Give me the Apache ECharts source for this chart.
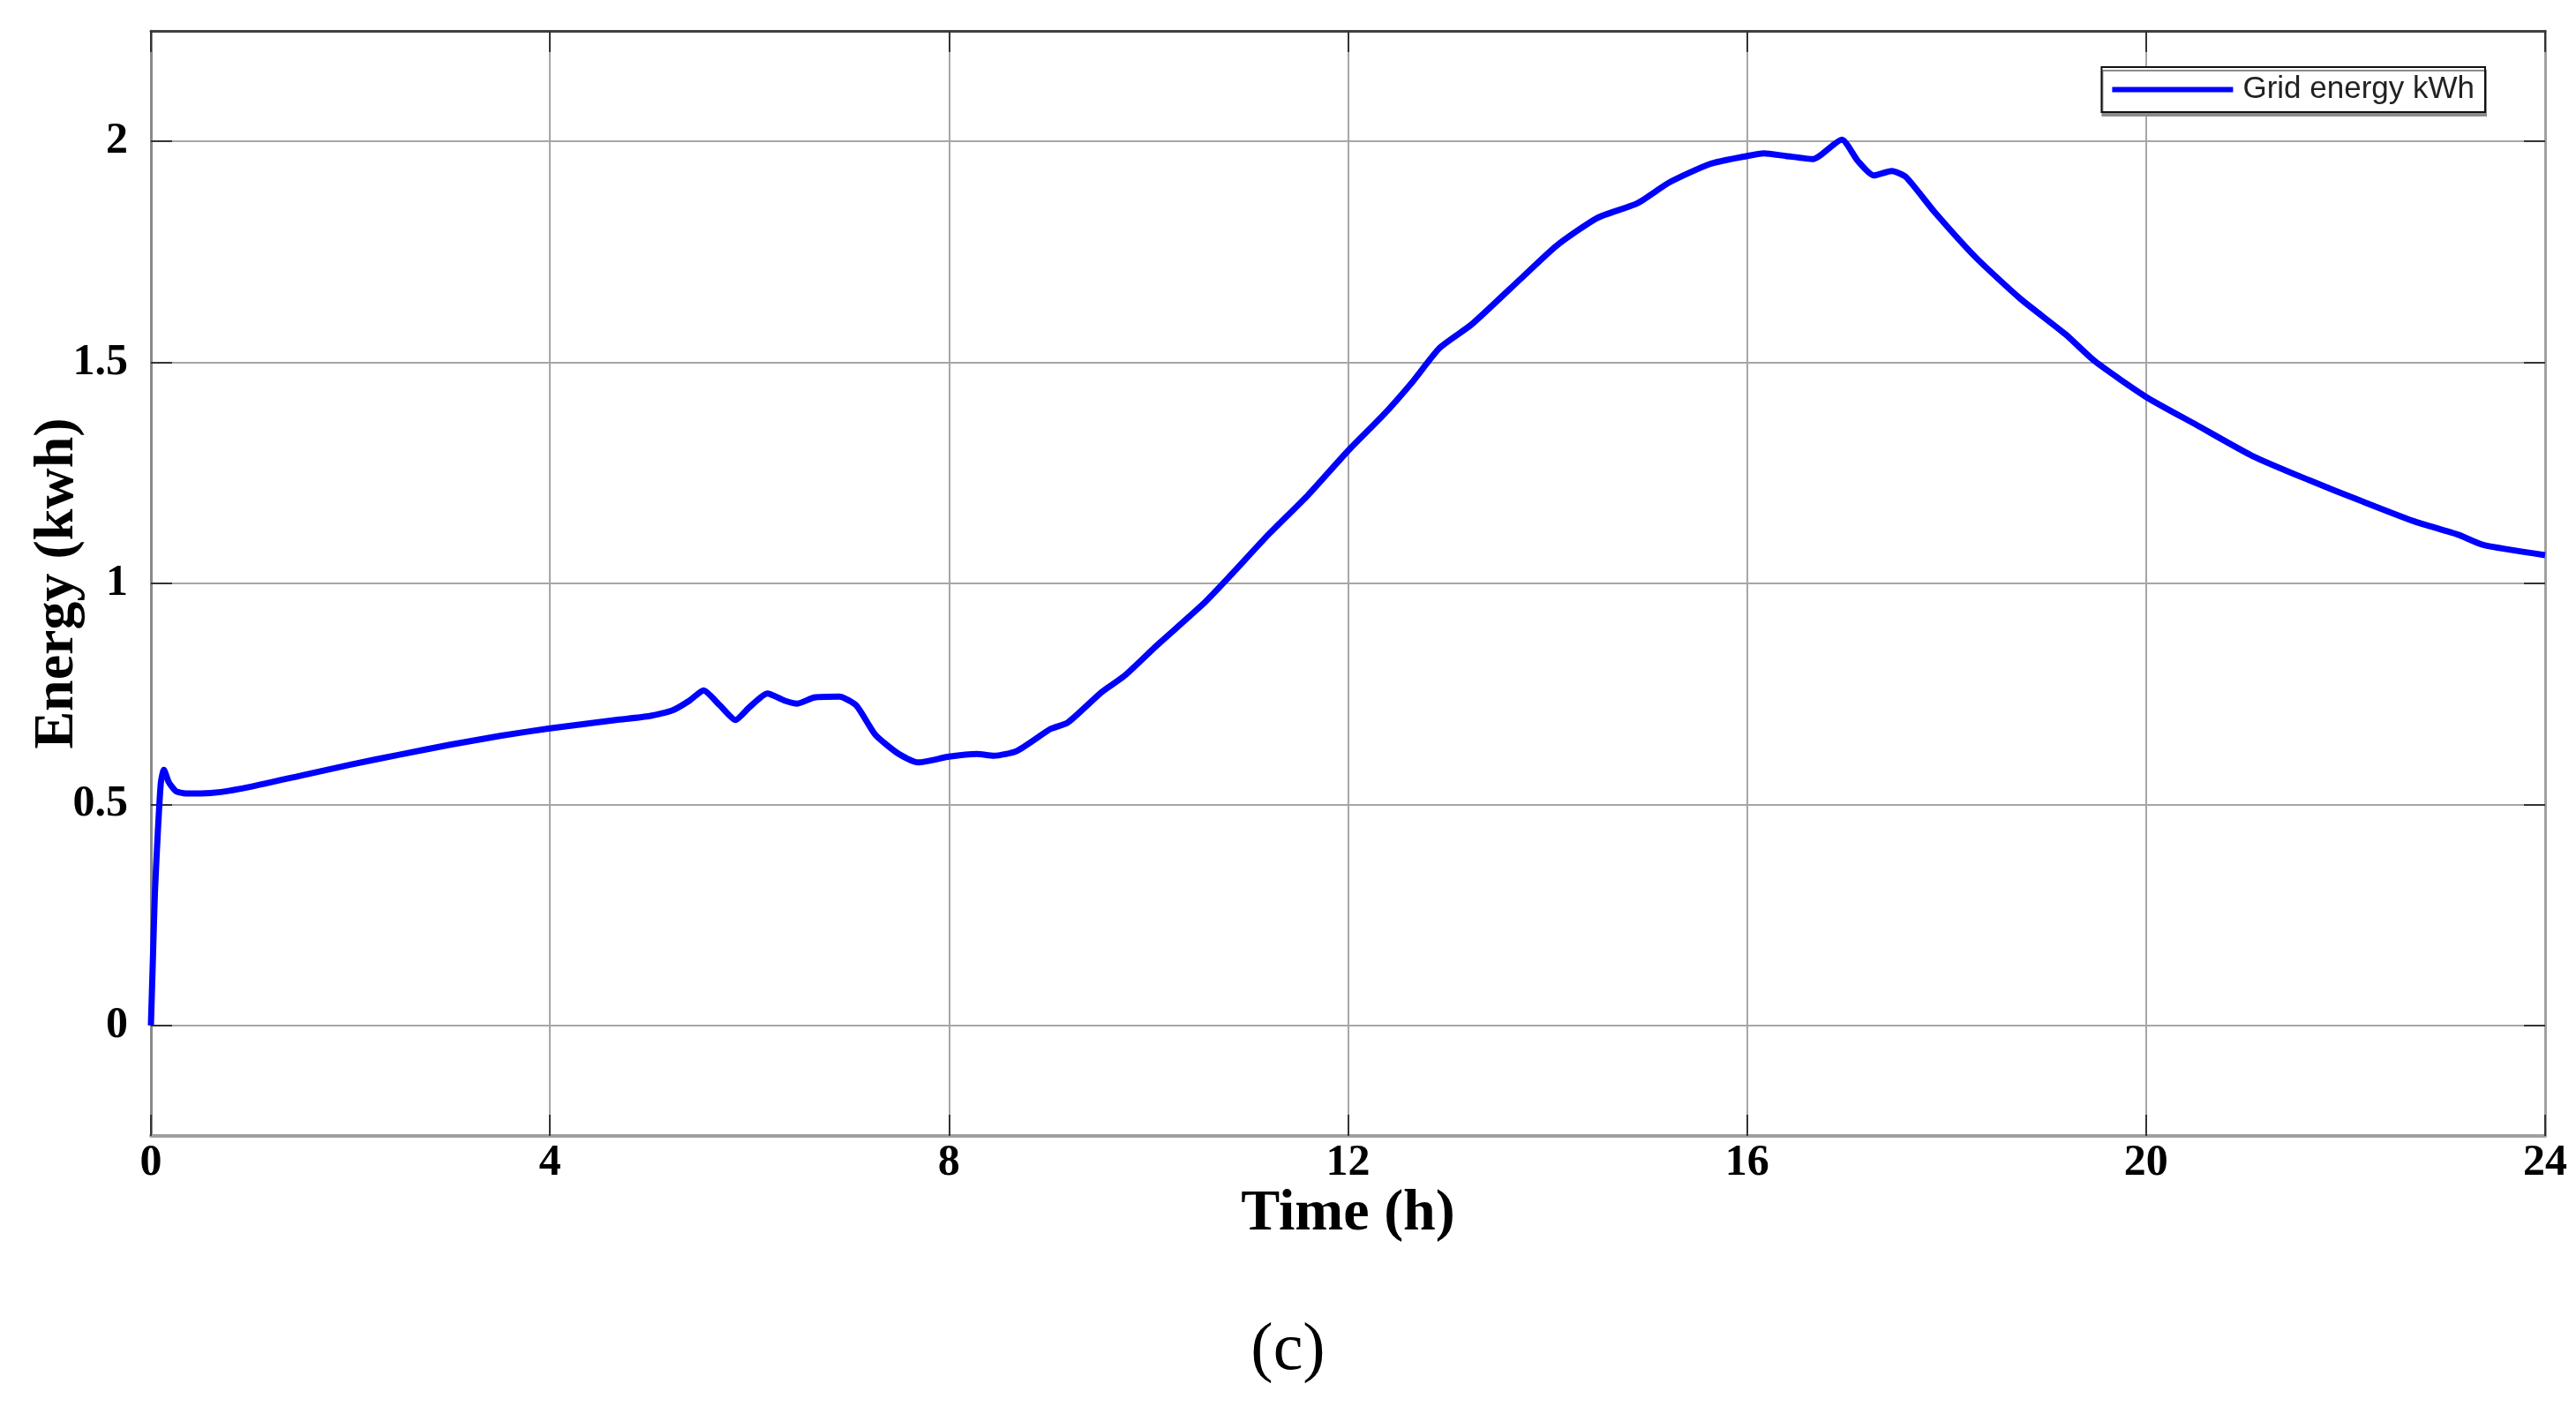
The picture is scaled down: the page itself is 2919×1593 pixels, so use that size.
<!DOCTYPE html>
<html>
<head>
<meta charset="utf-8">
<script src="https://cdn.jsdelivr.net/npm/echarts@6/dist/echarts.min.js"></script>
<style>
  html, body { margin: 0; padding: 0; background: #fff; }
  #section1 { width: 2919px; height: 1593px; }
</style>
</head>
<body>
<div id="section1"></div>
<script>
var section1 = echarts.init(document.getElementById('section1'));

/****** grid energy over one day *******/
var hours = [0, 0.02, 0.04, 0.07, 0.1, 0.13, 0.18, 0.25, 0.35, 0.5, 0.7, 1.0, 1.5, 2.0, 2.5, 3.0, 3.5, 4.0,
    4.66, 5.0, 5.23, 5.4, 5.54, 5.7, 5.86, 6.0, 6.18, 6.35, 6.48, 6.65, 6.9, 7.07, 7.26, 7.49, 7.69,
    8.0, 8.28, 8.45, 8.68, 9.02, 9.19, 9.53, 9.76, 10.09, 10.55, 10.83, 11.2, 11.6, 12.0, 12.35, 12.65,
    12.92, 13.24, 13.73, 14.09, 14.5, 14.9, 15.22, 15.63, 16.0, 16.17, 16.39, 16.66, 16.95, 17.11,
    17.27, 17.45, 17.59, 17.88, 18.29, 18.74, 19.19, 19.49, 20.0, 20.51, 21.07, 21.63, 22.15, 22.68,
    23.13, 23.38, 24];
var energy = [0, 0.15, 0.3, 0.44, 0.55, 0.578, 0.55, 0.53, 0.525, 0.525, 0.528, 0.54, 0.565, 0.59, 0.613, 0.635, 0.655, 0.672,
    0.691, 0.700, 0.713, 0.735, 0.758, 0.725, 0.691, 0.72, 0.751, 0.735, 0.728, 0.742, 0.744, 0.724, 0.658, 0.615, 0.595,
    0.608, 0.614, 0.61, 0.621, 0.671, 0.685, 0.754, 0.791, 0.861, 0.954, 1.02, 1.11, 1.20, 1.30, 1.38, 1.457,
    1.533, 1.586, 1.689, 1.764, 1.827, 1.860, 1.907, 1.949, 1.967, 1.973, 1.967, 1.960, 2.004, 1.956,
    1.923, 1.933, 1.920, 1.840, 1.738, 1.644, 1.564, 1.502, 1.422, 1.358, 1.288, 1.234, 1.187, 1.141,
    1.110, 1.087, 1.064];
var yTicks = [0, 0.5, 1, 1.5, 2];
var seriesName = 'Grid energy kWh';

var points = hours.map(function (h, i) { return [h, energy[i]]; });

var serif = 'Liberation Serif, Times New Roman, serif';
var labelStyle = {
    fontFamily: serif,
    fontWeight: 'bold',
    fontSize: 50,
    color: '#000'
};
var tickStyle = { inside: true, length: 24, lineStyle: { color: '#333', width: 2 } };

var option1 = {
    backgroundColor: '#fff',
    animation: false,
    title: {
        text: '(c)',
        left: 'center',
        top: 1488,
        textStyle: { fontFamily: serif, fontWeight: 'normal', fontSize: 76, color: '#000' }
    },
    legend: {
        data: [seriesName],
        right: 103,
        top: 76,
        icon: 'rect',
        itemWidth: 137,
        itemHeight: 6,
        padding: [8, 12, 8, 12],
        backgroundColor: '#fff',
        borderColor: '#111',
        borderWidth: 2,
        shadowColor: '#8c8c8c',
        shadowOffsetX: 1,
        shadowOffsetY: 4,
        textStyle: {
            fontFamily: 'Liberation Sans, Arial, sans-serif',
            fontSize: 35,
            color: '#222',
            padding: [0, 0, 0, 6]
        }
    },
    grid: {
        left: 171,
        right: 35,
        top: 35,
        bottom: 306,
        outerBoundsMode: 'none'
    },
    xAxis: [{
        type: 'value',
        position: 'bottom',
        min: 0,
        max: 24,
        interval: 4,
        name: 'Time (h)',
        nameLocation: 'middle',
        nameGap: 56,
        nameMoveOverlap: false,
        nameTextStyle: { fontFamily: serif, fontWeight: 'bold', fontSize: 66, color: '#000' },
        axisLine: { onZero: false, lineStyle: { color: '#a0a0a0', width: 4 } },
        axisTick: tickStyle,
        axisLabel: Object.assign({ margin: 6 }, labelStyle),
        splitLine: { show: true, lineStyle: { color: '#a6a6a6', width: 2 } }
    }, {
        type: 'value',
        position: 'top',
        min: 0,
        max: 24,
        interval: 4,
        axisLine: { onZero: false, lineStyle: { color: '#404040', width: 3 } },
        axisTick: tickStyle,
        axisLabel: { show: false },
        splitLine: { show: false }
    }],
    yAxis: [{
        type: 'value',
        position: 'left',
        min: -0.25,
        max: 2.25,
        name: 'Energy (kwh)',
        nameLocation: 'middle',
        nameGap: 74,
        nameMoveOverlap: false,
        nameTextStyle: { fontFamily: serif, fontWeight: 'bold', fontSize: 64, color: '#000' },
        axisLine: { show: true, onZero: false, lineStyle: { color: '#8a8a8a', width: 3 } },
        axisTick: Object.assign({ customValues: yTicks }, tickStyle),
        axisLabel: Object.assign({ customValues: yTicks, margin: 26 }, labelStyle),
        splitLine: { show: true, lineStyle: { color: '#a6a6a6', width: 2 } }
    }, {
        type: 'value',
        position: 'right',
        min: -0.25,
        max: 2.25,
        axisLine: { show: true, onZero: false, lineStyle: { color: '#a0a0a0', width: 3 } },
        axisTick: Object.assign({ customValues: yTicks }, tickStyle),
        axisLabel: { show: false },
        splitLine: { show: false }
    }],
    series: [{
        name: seriesName,
        type: 'line',
        xAxisIndex: 0,
        yAxisIndex: 0,
        data: points,
        showSymbol: false,
        smooth: 0.2,
        itemStyle: { color: '#0000ff' },
        lineStyle: { color: '#0000ff', width: 7 }
    }]
};

section1.setOption(option1);
</script>
</body>
</html>
